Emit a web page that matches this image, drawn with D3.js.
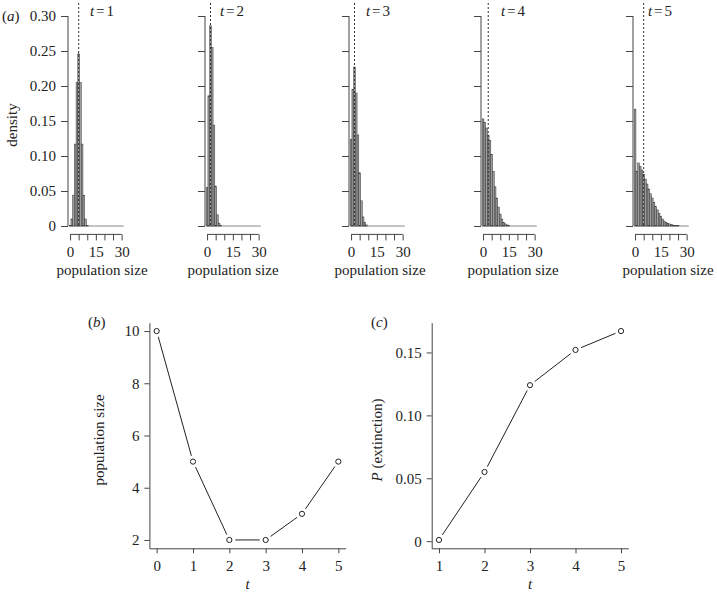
<!DOCTYPE html>
<html><head><meta charset="utf-8">
<script src="https://cdn.jsdelivr.net/npm/d3@7"></script>
<style>
body{margin:0;background:#fff;}
svg{display:block;font-family:"Liberation Serif","Times New Roman",serif;}
</style></head><body>
<svg id="chart" width="717" height="594"></svg>
<script>
// ---------------- data ----------------
const histTimes = [1, 2, 3, 4, 5];
// density for population size 0,1,2,... at each time
const densityT1 = [0.001, 0.010, 0.044, 0.117, 0.205, 0.246, 0.205, 0.117, 0.044, 0.010, 0.001];
const densityT2 = [0.055, 0.186, 0.286, 0.255, 0.144, 0.057, 0.016, 0.004, 0.001];
const densityT3 = [0.124, 0.195, 0.227, 0.190, 0.130, 0.076, 0.036, 0.013, 0.005, 0.0015];
const densityT4 = [0.153, 0.148, 0.140, 0.130, 0.122, 0.102, 0.078, 0.056, 0.040, 0.027, 0.017, 0.010, 0.005, 0.003, 0.0015, 0.0008];
const densityT5 = [0.167, 0.078, 0.090, 0.085, 0.080, 0.074, 0.067, 0.060, 0.053, 0.046, 0.040, 0.034, 0.028, 0.023, 0.018, 0.014, 0.010, 0.007, 0.005, 0.004, 0.003, 0.002, 0.0015, 0.001, 0.0007, 0.0005];
const histYTicks = [0, 0.05, 0.10, 0.15, 0.20, 0.25, 0.30];
const histXTicks = [0, 5, 10, 15, 20, 25, 30];
const histXLabelled = [0, 15, 30];

const popTimes = [0, 1, 2, 3, 4, 5];
const popSize = [10, 5, 2, 2, 3, 5];
const popYTicks = [2, 4, 6, 8, 10];

const extTimes = [1, 2, 3, 4, 5];
const extProb = [0.001, 0.055, 0.124, 0.152, 0.167];
const extYTicks = [0, 0.05, 0.10, 0.15];

// ---------------- layout ----------------
const svg = d3.select("#chart");
const INK = "#222", AXIS = "#444";
const densities = [densityT1, densityT2, densityT3, densityT4, densityT5];
const histLeft = [68, 205, 349, 481, 633];
const histW = 55.7;
const histTop = 7.6, histBottom = 234.4;
const tLabelCx = [102, 232, 378, 513, 660];
const xTitleCx = [102, 233, 380, 513, 668];

function styleAxis(g, size) {
  g.attr("font-family", null).attr("font-size", null);
  g.selectAll("line").attr("stroke", AXIS);
  g.selectAll("text").attr("fill", INK).style("font-size", size + "px");
}
const fmtDec = d => d === 0 ? "0" : d.toFixed(2);

function ext(ext0) { const e = (ext0[1] - ext0[0]) * 0.04; return [ext0[0] - e, ext0[1] + e]; }

const yH = d3.scaleLinear().domain(ext([0, 0.3])).range([histBottom, histTop]);

histTimes.forEach((t, i) => {
  const L = histLeft[i];
  const x = d3.scaleLinear().domain(ext([0, 30])).range([L, L + histW]);
  const g = svg.append("g");
  const dens = densities[i];

  // zero baseline (empty bins)
  g.append("line").attr("x1", x(-0.5)).attr("x2", x.range()[1])
    .attr("y1", yH(0)).attr("y2", yH(0)).attr("stroke", "#888").attr("stroke-width", 1);

  g.selectAll("rect.bar").data(dens).join("rect")
    .attr("class", "bar")
    .attr("x", (d, k) => x(k - 0.5))
    .attr("width", (d, k) => x(k + 0.5) - x(k - 0.5))
    .attr("y", d => yH(d))
    .attr("height", d => yH(0) - yH(d))
    .attr("fill", "#a0a0a0").attr("stroke", "#333").attr("stroke-width", 0.5);

  // observed population size
  g.append("line").attr("x1", x(popSize[t])).attr("x2", x(popSize[t]))
    .attr("y1", 3).attr("y2", yH(0))
    .attr("stroke", "#333").attr("stroke-width", 1).attr("stroke-dasharray", "2,2");

  // y axis
  const ya = g.append("g").attr("transform", `translate(${L},0)`)
    .call(d3.axisLeft(yH).tickValues(histYTicks).tickSize(7).tickPadding(5)
      .tickFormat(i === 0 ? fmtDec : () => ""));
  ya.select(".domain").remove();
  ya.append("line").attr("y1", yH(0)).attr("y2", yH(0.3)).attr("stroke", AXIS);
  styleAxis(ya, 15);

  // x axis
  const xa = g.append("g").attr("transform", `translate(0,${histBottom})`)
    .call(d3.axisBottom(x).tickValues(histXTicks).tickSize(6).tickPadding(6)
      .tickFormat(d => histXLabelled.includes(d) ? d : ""));
  xa.select(".domain").remove();
  xa.append("line").attr("x1", x(0)).attr("x2", x(30)).attr("stroke", AXIS);
  styleAxis(xa, 15);

  // t label
  const tl = svg.append("text").attr("x", tLabelCx[i]).attr("y", 16)
    .attr("text-anchor", "middle").attr("fill", INK).style("font-size", "15px");
  tl.append("tspan").attr("font-style", "italic").text("t");
  tl.append("tspan").attr("dx", 2).text("=");
  tl.append("tspan").attr("dx", 2).text(t);

  svg.append("text").attr("x", xTitleCx[i]).attr("y", 275).attr("text-anchor", "middle")
    .attr("fill", INK).style("font-size", "15px").text("population size");
});

svg.append("text").attr("transform", "translate(17,125) rotate(-90)").attr("text-anchor", "middle")
  .attr("fill", INK).style("font-size", "15px").text("density");
const la = svg.append("text").attr("x", 2).attr("y", 21).attr("fill", INK).style("font-size", "15px");
la.append("tspan").text("(");
la.append("tspan").attr("font-style", "italic").text("a");
la.append("tspan").text(")");

// ---------- line panels ----------
function linePanel(opts) {
  const { xs, ys, xTicks, yTicks, left, right, top, bottom, yFmt } = opts;
  const x = d3.scaleLinear().domain(ext(d3.extent(xs))).range([left, right]);
  const y = d3.scaleLinear().domain(ext(d3.extent(ys))).range([bottom, top]);
  const g = svg.append("g");
  const ya = g.append("g").attr("transform", `translate(${left},0)`)
    .call(d3.axisLeft(y).tickValues(yTicks).tickSize(5).tickSizeOuter(0).tickPadding(5).tickFormat(yFmt));
  ya.select(".domain").attr("stroke", AXIS);
  styleAxis(ya, 15);
  const xa = g.append("g").attr("transform", `translate(0,${bottom})`)
    .call(d3.axisBottom(x).tickValues(xTicks).tickSize(5).tickSizeOuter(0).tickPadding(7).tickFormat(d3.format("d")));
  xa.select(".domain").attr("stroke", AXIS);
  styleAxis(xa, 15);

  const pts = xs.map((v, k) => [x(v), y(ys[k])]);
  const gap = 6;
  const segs = d3.pairs(pts).map(([a, b]) => {
    const dx = b[0] - a[0], dy = b[1] - a[1], d = Math.hypot(dx, dy);
    return [a[0] + dx / d * gap, a[1] + dy / d * gap, b[0] - dx / d * gap, b[1] - dy / d * gap];
  });
  g.selectAll("line.seg").data(segs).join("line").attr("class", "seg")
    .attr("x1", s => s[0]).attr("y1", s => s[1]).attr("x2", s => s[2]).attr("y2", s => s[3])
    .attr("stroke", INK).attr("stroke-width", 1);
  g.selectAll("circle").data(pts).join("circle")
    .attr("cx", p => p[0]).attr("cy", p => p[1]).attr("r", 2.6)
    .attr("fill", "#fff").attr("stroke", INK).attr("stroke-width", 1);

  svg.append("text").attr("x", (left + right) / 2).attr("y", 589).attr("text-anchor", "middle")
    .attr("font-style", "italic").attr("fill", INK).style("font-size", "15px").text("t");
  return { x, y };
}

linePanel({ xs: popTimes, ys: popSize, xTicks: popTimes, yTicks: popYTicks,
  left: 149.4, right: 345.6, top: 322.7, bottom: 548.3, yFmt: d3.format("d") });
linePanel({ xs: extTimes, ys: extProb, xTicks: extTimes, yTicks: extYTicks,
  left: 431.7, right: 628.3, top: 322.7, bottom: 548.3, yFmt: fmtDec });

svg.append("text").attr("transform", "translate(103.5,440) rotate(-90)").attr("text-anchor", "middle")
  .attr("fill", INK).style("font-size", "15px").text("population size");
const pc = svg.append("text").attr("transform", "translate(382,440) rotate(-90)").attr("text-anchor", "middle")
  .attr("fill", INK).style("font-size", "15px");
pc.append("tspan").attr("font-style", "italic").text("P");
pc.append("tspan").text(" (extinction)");

const lb = svg.append("text").attr("x", 88).attr("y", 327).attr("fill", INK).style("font-size", "15px");
lb.append("tspan").text("(");
lb.append("tspan").attr("font-style", "italic").text("b");
lb.append("tspan").text(")");
const lc = svg.append("text").attr("x", 371).attr("y", 327).attr("fill", INK).style("font-size", "15px");
lc.append("tspan").text("(");
lc.append("tspan").attr("font-style", "italic").text("c");
lc.append("tspan").text(")");
</script>
</body></html>
